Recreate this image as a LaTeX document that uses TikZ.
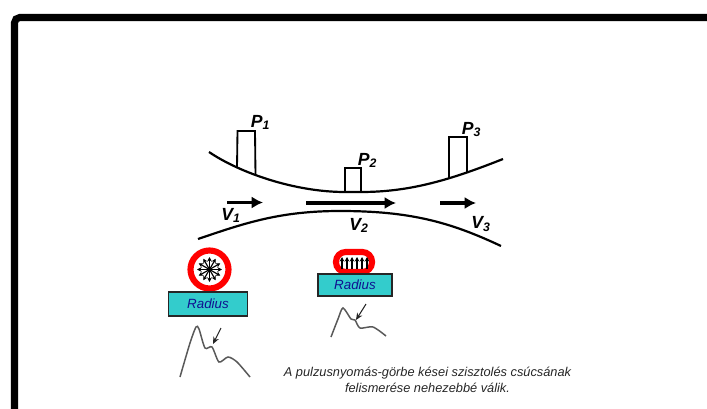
\documentclass[tikz,border=0pt]{standalone}
\usepackage{fontspec}
\setmainfont{Liberation Sans}
\usetikzlibrary{arrows.meta}

\definecolor{arterybox}{HTML}{33CCCC}
\definecolor{radiustext}{HTML}{101090}

\tikzset{
    wall/.style={line width=1.25pt},
    flow/.style={-{Latex[length=6.5pt,width=7pt]},line width=2pt},
    probe/.style={line width=1.05pt},
    artery/.style={draw=red,line width=3.5pt},
    radiusbox/.style={draw=black!85,fill=arterybox,line width=0.7pt,inner sep=0pt,text=radiustext,
        font=\fontsize{7.6}{8}\selectfont\itshape},
    pulse/.style={draw=black!65,line width=0.85pt},
    spoke/.style={-{Stealth[length=2.6pt,width=2.6pt]},line width=0.65pt},
    notch/.style={-{Stealth[length=4pt,width=3.4pt]},line width=0.6pt,draw=black!85},
    tag/.style={inner sep=0pt,font=\fontsize{10}{11}\selectfont\bfseries\itshape}
}

\begin{document}
\begin{tikzpicture}[x=0.02cm,y=-0.02cm]
            \useasboundingbox (0,0) rectangle (707,409);

            % outer frame, open to the right and below
            \draw[line width=4pt,rounded corners=3pt] (14.5,409) -- (14.5,17.5) -- (707,17.5);

            % vessel walls
            \coordinate (uppera) at (209,152);
            \coordinate (upperb) at (237,168);
            \coordinate (upperc) at (255.5,175.5);
            \coordinate (upperd) at (345,192);
            \coordinate (uppere) at (361,192);
            \coordinate (upperf) at (449,178);
            \coordinate (upperg) at (467,172.5);
            \coordinate (upperh) at (503,159);
            \draw[wall] (uppera) .. controls (240,173) and (295,192) .. (upperd) -- (uppere)
                .. controls (410,192) and (450,180) .. (upperh);
            \coordinate (lowera) at (198,239);
            \coordinate (lowerb) at (340,211);
            \coordinate (lowerc) at (501,246);
            \draw[wall] (lowera) .. controls (245,223) and (280,211) .. (lowerb)
                .. controls (410,211) and (450,222) .. (lowerc);

            % pressure probes on the upper wall
            \draw[probe] (upperb) -- (237.5,131) -- (255,131) -- (upperc);
            \draw[probe] (upperd) -- (345,168) -- (361,168) -- (uppere);
            \draw[probe] (upperf) -- (449,137) -- (467,137) -- (upperg);

            \node[tag] (p1) at (260.5,122.5) {P\textsubscript{1}};
            \node[tag] (p2) at (367.5,160.5) {P\textsubscript{2}};
            \node[tag] (p3) at (471.5,129.5) {P\textsubscript{3}};

            % flow arrows
            \coordinate (flowa) at (227,202.5);
            \coordinate (flowb) at (263,202.5);
            \coordinate (flowc) at (306,203);
            \coordinate (flowd) at (396,203);
            \coordinate (flowe) at (440,203);
            \coordinate (flowf) at (476,203);
            \draw[flow] (flowa) -- (flowb);
            \draw[flow,line width=2.6pt] (flowc) -- (flowd);
            \draw[flow] (flowe) -- (flowf);

            \node[tag] (v1) at (231,215.5) {V\textsubscript{1}};
            \node[tag] (v2) at (359,225.5) {V\textsubscript{2}};
            \node[tag] (v3) at (481,224) {V\textsubscript{3}};

            % open artery over the radius
            \draw[artery] (209.5,269.5) circle (19);
            \foreach \a in {0,30,...,330}
                \draw[spoke] (209.5,269.5) -- ++(\a:12.5);
            \node[radiusbox,minimum width=45.3pt,minimum height=13.6pt] (radiusa) at (208,304) {Radius};

            % narrowed artery over the radius
            \draw[artery,rounded corners=5.5pt] (336,252) rectangle (372,272);
            \foreach \x in {342,347,...,367}
                \draw[spoke] (\x,268.5) -- (\x,257);
            \node[radiusbox,minimum width=42pt,minimum height=12.5pt] (radiusb) at (355,285) {Radius};

            % pulse curves
            \draw[pulse] plot[smooth,tension=0.45] coordinates {(180,377) (190,343) (196,327) (199,329) (205,348) (212,347) (219,362) (228,357) (237,362) (250,377)};
            \coordinate (notcha) at (221,328);
            \coordinate (notchb) at (213,344);
            \draw[notch] (notcha) -- (notchb);

            \draw[pulse] plot[smooth,tension=0.45] coordinates {(331,337) (338,319) (343,308) (351,319) (355,320) (360,328) (373,327) (386,336)};
            \coordinate (notchc) at (366,304);
            \coordinate (notchd) at (356,320);
            \draw[notch] (notchc) -- (notchd);

            \node[align=center,inner sep=0pt,text=black!85,font=\fontsize{7.28}{9}\selectfont\itshape] (caption) at (427.5,380) {A pulzusnyomás-görbe kései szisztolés csúcsának\\felismerése nehezebbé válik.};
        \end{tikzpicture}
\end{document}
